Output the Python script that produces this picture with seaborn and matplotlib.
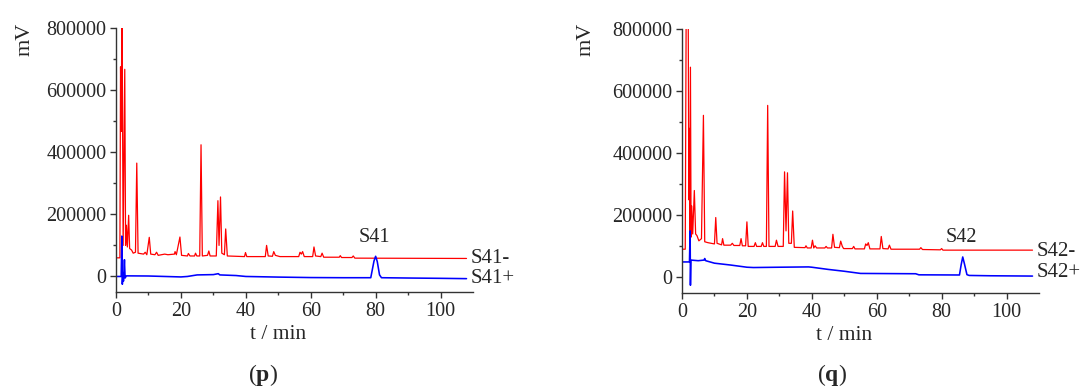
import numpy as np
import pandas as pd
import matplotlib
matplotlib.use("Agg")
import matplotlib.pyplot as plt
import seaborn as sns

# ---------------- data ----------------
# Panel (p): S41- (red trace) vertices: time [min], signal [mV]
s41n_t = [0, 1.2, 1.4, 1.6, 1.85, 2.2, 2.7, 2.95, 3.2, 3.5, 3.9, 4.2, 4.8, 5.3, 6.0, 6.4, 6.8,
          8.5, 9.0, 9.5, 10.25, 10.7, 12.0, 12.5, 13.0, 15.0, 16.0, 18.0, 18.2, 18.6, 19.7, 20.2,
          22.0, 22.3, 22.8, 24.2, 24.5, 24.9, 25.8, 26.2, 26.6, 28.2, 28.6, 29.0, 30.9, 31.4,
          31.75, 32.2, 32.6, 33.4, 33.8, 34.3, 39.6, 39.9, 40.3, 46.0, 46.4, 46.9, 48.2, 48.6,
          49.1, 50.5, 56.3, 56.7, 57.1, 57.5, 58.0, 60.6, 61.0, 61.5, 63.1, 63.5, 64.0, 68.8,
          69.1, 69.5, 72.7, 73.1, 73.6, 108]
s41n_v = [60000, 60000, 675000, 467000, 900000, 100000, 667000, 100000, 165000, 95000, 197000,
          90000, 85000, 75000, 78000, 365000, 75000, 72000, 78000, 70000, 126000, 72000, 70000,
          78000, 68000, 72000, 70000, 72000, 80000, 70000, 127000, 68000, 66000, 74000, 66000,
          66000, 75000, 66000, 66000, 424000, 66000, 68000, 82000, 66000, 66000, 244000, 100000,
          256000, 75000, 70000, 153000, 66000, 64000, 77000, 64000, 64000, 100000, 66000, 65000,
          80000, 68000, 64000, 64000, 78000, 72000, 80000, 64000, 64000, 95000, 66000, 64000,
          75000, 62000, 62000, 67000, 61000, 61000, 66000, 59000, 58000]

# Panel (p): S41+ (blue trace)
s41p_t = [0, 1.6, 1.8, 1.95, 2.15, 2.3, 2.6, 2.8, 3.2, 10, 20, 22, 25, 30, 31.5, 32, 37, 40, 50,
          60, 70, 78.5, 79.5, 80.0, 80.5, 81.2, 81.8, 90, 100, 108]
s41p_v = [0, 0, 130000, -25000, 10000, -15000, 54000, -5000, 2000, 1500, -1500, 0, 5000, 6000,
          9000, 5000, 3000, 0, -2000, -3500, -4000, -4000, 50000, 65000, 48000, 5000, -4000,
          -5000, -6000, -7000]

# Panel (q): S42- (red trace)
s42n_t = [0, 1.0, 1.3, 1.9, 2.1, 2.3, 2.4, 2.6, 2.8, 3.0, 3.3, 3.8, 4.2, 4.6, 5.2, 6.0, 6.6, 7.0,
          8.0, 9.0, 10.0, 10.4, 10.8, 12.2, 12.5, 12.9, 15.0, 15.5, 16.0, 17.8, 18.2, 18.6, 19.6,
          20.0, 20.4, 22.2, 22.6, 23.0, 24.4, 24.8, 25.2, 26.0, 26.4, 26.8, 28.7, 29.1, 29.6,
          31.2, 31.6, 32.05, 32.5, 32.9, 33.7, 34.1, 34.6, 37.9, 38.2, 38.6, 39.8, 40.2, 40.6,
          41.0, 41.5, 44.0, 44.4, 44.8, 46.1, 46.5, 47.0, 48.5, 48.9, 49.4, 49.8, 52.5, 52.9,
          53.3, 56.2, 56.6, 57.0, 57.4, 57.9, 61.0, 61.4, 61.9, 63.5, 63.9, 64.4, 73.2, 73.6,
          74.1, 79.6, 80.0, 80.4, 108]
s42n_v = [91000, 91000, 900000, 900000, 250000, 480000, 150000, 677000, 130000, 230000, 140000,
          280000, 140000, 135000, 118000, 125000, 522000, 115000, 112000, 110000, 108000,
          193000, 110000, 105000, 125000, 104000, 104000, 110000, 103000, 103000, 125000,
          102000, 102000, 179000, 100000, 100000, 112000, 100000, 100000, 112000, 100000,
          100000, 554000, 100000, 100000, 120000, 100000, 100000, 340000, 150000, 337000,
          110000, 110000, 214000, 97000, 96000, 102000, 95000, 95000, 120000, 95000, 102000,
          95000, 95000, 100000, 95000, 95000, 139000, 97000, 96000, 117000, 100000, 93000,
          93000, 100000, 92000, 92000, 108000, 103000, 112000, 92000, 92000, 132000, 93000,
          92000, 104000, 91000, 91000, 96000, 90000, 89000, 93000, 88000, 88000]

# Panel (q): S42+ (blue trace)
s42p_t = [0, 2.3, 2.5, 2.6, 2.75, 5, 6.8, 7.0, 7.3, 10, 15, 20, 22, 30, 39, 40, 45, 50, 55, 72,
          73, 85.5, 86.0, 86.5, 87.0, 87.8, 88.5, 95, 108]
s42p_v = [50000, 50000, 150000, -25000, 56000, 54000, 56000, 61000, 54000, 46000, 40000, 33000,
          32000, 33000, 34000, 33000, 26000, 20000, 13000, 12000, 8500, 8000, 40000, 66000,
          45000, 9000, 6500, 5500, 4500]

panels = [
    dict(neg=(s41n_t, s41n_v), pos=(s41p_t, s41p_v), names=("S41-", "S41+"),
         lab_y=(57000, -7400), tag="S41", tag_xy=(79.7, 126000), letter="p"),
    dict(neg=(s42n_t, s42n_v), pos=(s42p_t, s42p_v), names=("S42-", "S42+"),
         lab_y=(84500, 17000), tag="S42", tag_xy=(86.1, 130000), letter="q"),
]

# ---------------- style ----------------
sns.set_style("ticks")
plt.rcParams["font.family"] = ["Liberation Serif", "DejaVu Serif"]
plt.rcParams["mathtext.fontset"] = "custom"
plt.rcParams["mathtext.rm"] = "Liberation Serif"
plt.rcParams["mathtext.bf"] = "Liberation Serif:bold"

fig = plt.figure(figsize=(10.81, 3.88), dpi=100)
W, H = 1081, 388
ax_rects = [
    (116 / W, (H - 292) / H, 357 / W, 264 / H),
    (682 / W, (H - 293) / H, 357 / W, 264 / H),
]
mv_x = [25.5, 586.5]
letter_x = [263, 832]

for i, p in enumerate(panels):
    ax = fig.add_axes(ax_rects[i])
    dn = pd.DataFrame({"t": p["neg"][0], "v": p["neg"][1]})
    dp = pd.DataFrame({"t": p["pos"][0], "v": p["pos"][1]})
    sns.lineplot(data=dn, x="t", y="v", ax=ax, color="#ff0000", lw=0.9,
                 estimator=None, sort=False)
    sns.lineplot(data=dp, x="t", y="v", ax=ax, color="#0000ff", lw=1.15,
                 estimator=None, sort=False)
    ax.set_xlim(0, 110)
    ax.set_ylim(-50000, 800000)
    ax.set_xticks([0, 20, 40, 60, 80, 100])
    ax.set_xticks(np.arange(10, 110, 20), minor=True)
    ax.set_yticks([0, 200000, 400000, 600000, 800000])
    ax.set_yticks([100000, 300000, 500000, 700000], minor=True)
    ax.set_yticklabels(["0", "200000", "400000", "600000", "800000"])
    ax.tick_params(axis="both", which="major", direction="out", length=4, width=1,
                   labelsize=14.5, pad=3, color="#333333")
    ax.tick_params(axis="both", which="minor", direction="out", length=2.5, width=1,
                   color="#333333")
    for s in ["top", "right"]:
        ax.spines[s].set_visible(False)
    for s in ["left", "bottom"]:
        ax.spines[s].set_linewidth(1.0)
        ax.spines[s].set_color("#333333")
    ax.set_xlabel("")
    ax.set_ylabel("")
    ax.text(50, -0.16, "t / min", transform=ax.get_xaxis_transform(), ha="center",
            va="center", fontsize=15.5)
    ax.text(109.3, p["lab_y"][0], p["names"][0], ha="left", va="center",
            fontsize=15, clip_on=False)
    ax.text(109.3, p["lab_y"][1], p["names"][1], ha="left", va="center",
            fontsize=15, clip_on=False)
    ax.text(p["tag_xy"][0], p["tag_xy"][1], p["tag"], ha="center", va="center",
            fontsize=14.5)
    fig.text(mv_x[i] / W, 1 - 39 / H, "mV", rotation=90, ha="center", va="center",
             fontsize=16)
    fig.text(letter_x[i] / W, 1 - 375 / H, "(" + r"$\mathbf{" + p["letter"] + "}$" + ")",
             ha="center", va="center", fontsize=17)

fig.savefig("out.png", dpi=100)
